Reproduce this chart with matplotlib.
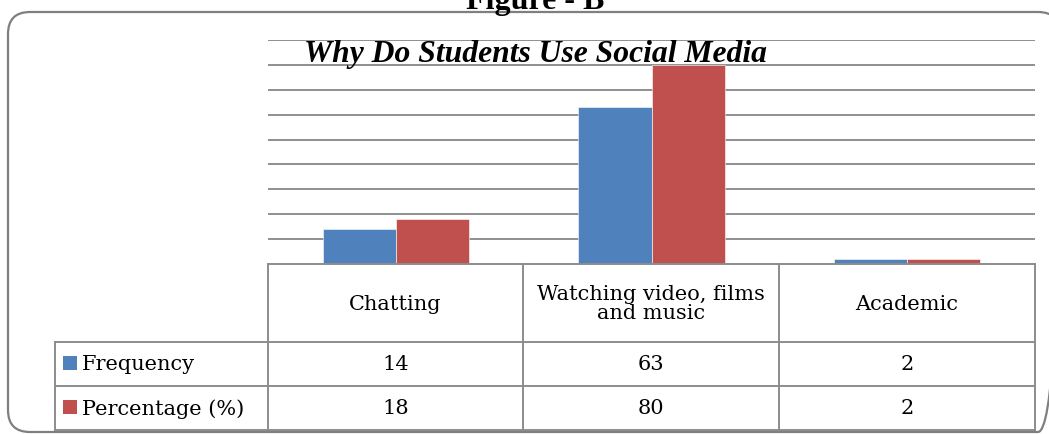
import matplotlib
matplotlib.use("Agg")
import matplotlib.pyplot as plt
from matplotlib.patches import FancyBboxPatch, Rectangle

categories = ["Chatting", "Watching video, films\nand music", "Academic"]
series_names = ["Frequency", "Percentage (%)"]
frequency = [14, 63, 2]
percentage = [18, 80, 2]
series_values = [frequency, percentage]
colors = ["#4F81BD", "#C0504D"]

W, H = 1049, 434
fig = plt.figure(figsize=(W / 100, H / 100), dpi=100)

# plot area geometry (pixels)
pl, pr, pt, pb = 268, 1035, 40, 264

ax = fig.add_axes([pl / W, (H - pb) / H, (pr - pl) / W, (pb - pt) / H])
ax.set_xlim(0, 3)
ax.set_ylim(0, 90)
ax.patch.set_visible(False)
for s in ax.spines.values():
    s.set_visible(False)
ax.set_xticks([])
ax.set_yticks(range(10, 91, 10))
ax.tick_params(left=False, labelleft=False)
ax.grid(axis="y", color="#878787", linewidth=1.3)
ax.set_axisbelow(True)

bw = 0.286
xs = [i + 0.5 for i in range(len(categories))]
for k, vals in enumerate(series_values):
    off = (k - 0.5) * bw
    ax.bar([x + off for x in xs], vals, width=bw, color=colors[k],
           edgecolor="white", linewidth=0.4, zorder=3)

# overlay axes in pixel coordinates (drawn on top)
ov = fig.add_axes([0, 0, 1, 1])
ov.set_xlim(0, W)
ov.set_ylim(H, 0)
ov.axis("off")
ov.patch.set_visible(False)

# rounded outer box
box = FancyBboxPatch((8, 12), 1052, 420, boxstyle="round,pad=0,rounding_size=22",
                     facecolor="none", edgecolor="#7f7f7f", linewidth=1.6, zorder=1)
ov.add_patch(box)

# figure label (clipped at top, as in the source)
ov.text(535, 9, "Figure - B", ha="center", va="baseline", fontsize=23,
        fontweight="bold", family="Liberation Serif", color="black")

# chart title
ov.text(304, 62, "Why Do Students Use Social Media",
        ha="left", va="baseline", fontsize=22.8, fontweight="bold", fontstyle="italic",
        family="Liberation Serif", zorder=5)

# data table
tc = "#8c8c8c"
tlw = 1.4
col_x = [268, 523, 779, 1035]
row_y = [264, 342, 386, 430]
tl = 55
ov.plot([col_x[0], col_x[-1]], [row_y[0], row_y[0]], color=tc, lw=tlw)
for x in col_x:
    ov.plot([x, x], [row_y[0], row_y[-1]], color=tc, lw=tlw)
for y in row_y[1:]:
    ov.plot([tl, col_x[-1]], [y, y], color=tc, lw=tlw)
ov.plot([tl, tl], [row_y[1], row_y[-1]], color=tc, lw=tlw)

tfont = dict(family="DejaVu Serif", fontsize=15, color="black")
for i, c in enumerate(categories):
    cx = (col_x[i] + col_x[i + 1]) / 2
    ov.text(cx, (row_y[0] + row_y[1]) / 2 + 1, c, ha="center", va="center",
            linespacing=1.0, **tfont)
for r, (name, vals) in enumerate(zip(series_names, series_values)):
    cy = (row_y[r + 1] + row_y[r + 2]) / 2 + 1
    ov.add_patch(Rectangle((63, cy - 9), 14, 14, facecolor=colors[r], edgecolor="none"))
    ov.text(82, cy, name, ha="left", va="center", **tfont)
    for i, v in enumerate(vals):
        cx = (col_x[i] + col_x[i + 1]) / 2
        ov.text(cx, cy, str(v), ha="center", va="center", **tfont)

fig.savefig("out.png", dpi=100)
